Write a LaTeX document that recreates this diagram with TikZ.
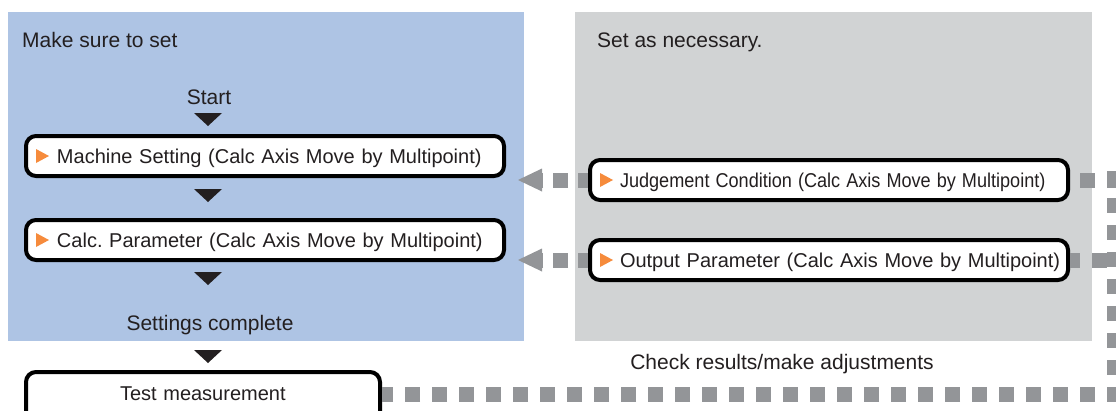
\documentclass[tikz,border=0pt]{standalone}
\usepackage{fontspec}
\setmainfont{Liberation Sans}
\usepackage{graphicx}
\usetikzlibrary{arrows.meta}
\definecolor{bluebg}{RGB}{174,196,228}
\definecolor{graybg}{RGB}{209,211,212}
\definecolor{conngray}{RGB}{147,149,152}
\definecolor{txt}{RGB}{35,31,32}
\definecolor{orangetri}{RGB}{246,139,60}
\newcommand\boxfont{\fontsize{20pt}{24pt}\selectfont}
\newcommand\labfont{\fontsize{21pt}{25pt}\selectfont}
\frenchspacing
\begin{document}
\begin{tikzpicture}[x=1pt,y=-1pt,
  panel/.style={inner sep=0pt, outer sep=0pt, draw=none},
  stepbox/.style={draw=black, fill=white, line width=4pt, rounded corners=10pt,
    minimum height=40pt, inner xsep=0pt, inner ysep=0pt, text width=478pt,
    align=left, text height=19pt, text depth=5pt, font=\boxfont, text=txt},
  lab/.style={inner sep=0pt, font=\labfont, text=txt},
  blacktri/.style={fill=txt},
  oratri/.style={fill=orangetri},
  dashconn/.style={draw=conngray, line width=15pt, dash pattern=on 15pt off 12pt},
  backarrow/.style={dashconn, dash pattern=on 15pt off 10pt, dash phase=5pt,
    -{Triangle[length=24pt,width=23pt,line width=0pt]}, conngray}
]
\useasboundingbox (0,0) rectangle (1116,410);
\clip (0,0) rectangle (1116,410);

% panels
\node[panel, fill=bluebg, minimum width=516pt, minimum height=329pt] (blue) at (266,176.5) {};
\node[panel, fill=graybg, minimum width=517pt, minimum height=329pt] (gray) at (833.5,176.5) {};

% labels
\node[lab, anchor=base west] (mk) at (22,47) {Make sure to set};
\node[lab, anchor=base west] (sn) at (597,47) {Set as necessary.};
\node[lab, anchor=base] (st) at (209,104) {Start};
\node[lab, anchor=base] (sc) at (210,330) {Settings complete};
\node[lab, anchor=base] (cr) at (782,369) {Check results/make adjustments};

% steps
\node[stepbox] (m) at (265,156) {\hspace*{31pt}Machine Setting (Calc Axis Move by Multipoint)};
\node[stepbox] (c) at (265,240) {\hspace*{31pt}Calc. Parameter (Calc Axis Move by Multipoint)};
\node[stepbox] (j) at (829,180) {\hspace*{30pt}\scalebox{0.905}[1]{Judgement Condition (Calc Axis Move by Multipoint)}};
\node[stepbox] (o) at (829,260) {\hspace*{30pt}Output Parameter (Calc Axis Move by Multipoint)};
\node[stepbox, text width=354pt, minimum height=56pt, text height=12pt, text depth=12pt] (t) at (203,400) {\hspace*{94pt}Test measurement};

% orange markers
\foreach \n in {m,c,j,o}{
  \fill[oratri] ([xshift=12pt]\n.west) ++(0,-7) -- ++(13,7) -- ++(-13,7) -- cycle;
}

% black flow triangles
\fill[blacktri] (194,113) -- (222,113) -- (208,126) -- cycle;
\fill[blacktri] (194,189) -- (222,189) -- (208,202) -- cycle;
\fill[blacktri] (194,272) -- (222,272) -- (208,285) -- cycle;
\fill[blacktri] (194,350) -- (222,350) -- (208,363) -- cycle;

% dashed connectors
\coordinate (vtop) at (1114.5,171);
\coordinate (vbot) at (1114.5,402);
\coordinate (vright) at (1122,0);
\coordinate (hline) at (0,394.5);
\coordinate (ltip) at (518,0);
\draw[dashconn] (vtop) -- (vbot);
\draw[dashconn, dash phase=17pt] (j.east) -- (j.east -| vright);
\draw[dashconn, dash phase=5pt] (o.east) -- (o.east -| vright);
\draw[dashconn] (hline -| vright) -- (hline -| t.east);
\draw[backarrow] (j.west) -- (j.west -| ltip);
\draw[backarrow] (o.west) -- (o.west -| ltip);
\end{tikzpicture}
\end{document}
